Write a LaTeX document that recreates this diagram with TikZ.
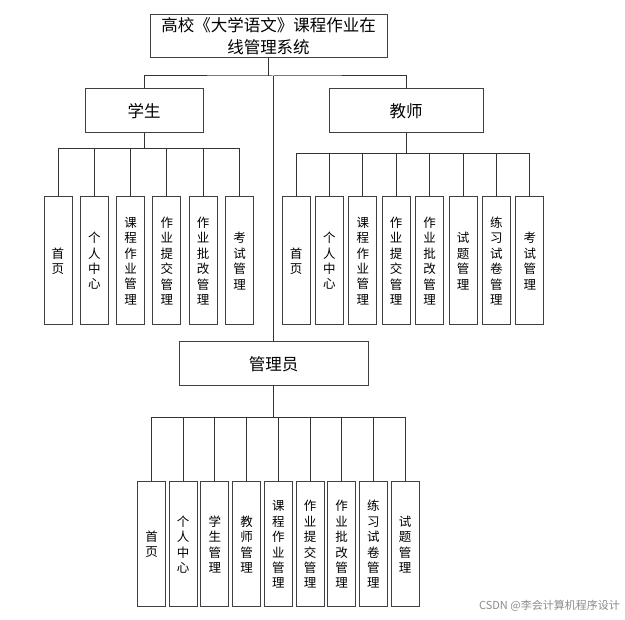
\documentclass[tikz,border=0pt]{standalone}
\usepackage{fontspec}
\setmainfont{Noto Sans CJK SC}
\usetikzlibrary{positioning}
\begin{document}
\begin{tikzpicture}[x=1pt,y=-1pt,
  box/.style={draw=black!75, line width=1pt, fill=white, align=center, inner sep=0pt},
  role/.style={box, minimum height=44pt, font=\fontsize{16.5}{20}\selectfont},
  leaf/.style={box, minimum width=28pt, font=\fontsize{12.5}{15.4}\selectfont},
  link/.style={draw=black!80, line width=1pt}
]
\useasboundingbox[fill=white] (0,0) rectangle (625,620);
\node[box, minimum width=237pt, minimum height=43pt, font=\fontsize{16.5}{22}\selectfont] (sys) at (268.5,36.5) {高校《大学语文》课程作业在\\线管理系统};
\node[role, minimum width=118pt] (stu) at (144,111) {学生};
\node[role, minimum width=154pt] (tea) at (406,111) {教师};
\node[role, minimum width=189pt] (adm) at (273.5,364) {管理员};
% top level
\coordinate (top) at (273,76);
\draw[link] (sys.south -| 268,0) -- (268,76);
\draw[link] (stu.north) |- (top) -| (tea.north);
\draw[link] (top) -- (adm.north -| top);
% student
\draw[link] (stu.south) -- ++(0,15) coordinate (sb);
\foreach \t [count=\i] in {{首\\页},{个\\人\\中\\心},{课\\程\\作\\业\\管\\理},{作\\业\\提\\交\\管\\理},{作\\业\\批\\改\\管\\理},{考\\试\\管\\理}} {
  \node[leaf, minimum height=128pt] (s\i) at (58+36.3*\i-36.3,261) {\t};
  \draw[link] (sb) -| (s\i.north);
}
% teacher
\draw[link] (tea.south) -- ++(0,20) coordinate (tb);
\foreach \t [count=\i] in {{首\\页},{个\\人\\中\\心},{课\\程\\作\\业\\管\\理},{作\\业\\提\\交\\管\\理},{作\\业\\批\\改\\管\\理},{试\\题\\管\\理},{练\\习\\试\\卷\\管\\理},{考\\试\\管\\理}} {
  \node[leaf, minimum height=128pt] (t\i) at (296+33.4*\i-33.4,261) {\t};
  \draw[link] (tb) -| (t\i.north);
}
% admin
\draw[link] (adm.south) -- ++(0,31) coordinate (ab);
\foreach \t [count=\i] in {{首\\页},{个\\人\\中\\心},{学\\生\\管\\理},{教\\师\\管\\理},{课\\程\\作\\业\\管\\理},{作\\业\\提\\交\\管\\理},{作\\业\\批\\改\\管\\理},{练\\习\\试\\卷\\管\\理},{试\\题\\管\\理}} {
  \node[leaf, minimum height=125pt] (a\i) at (151.5+31.7*\i-31.7,544.5) {\t};
  \draw[link] (ab) -| (a\i.north);
}
\node[anchor=east, text=black!45, font=\fontsize{11}{13}\selectfont, inner sep=0pt] (wm) at (620,606) {CSDN @李会计算机程序设计};
\end{tikzpicture}
\end{document}
